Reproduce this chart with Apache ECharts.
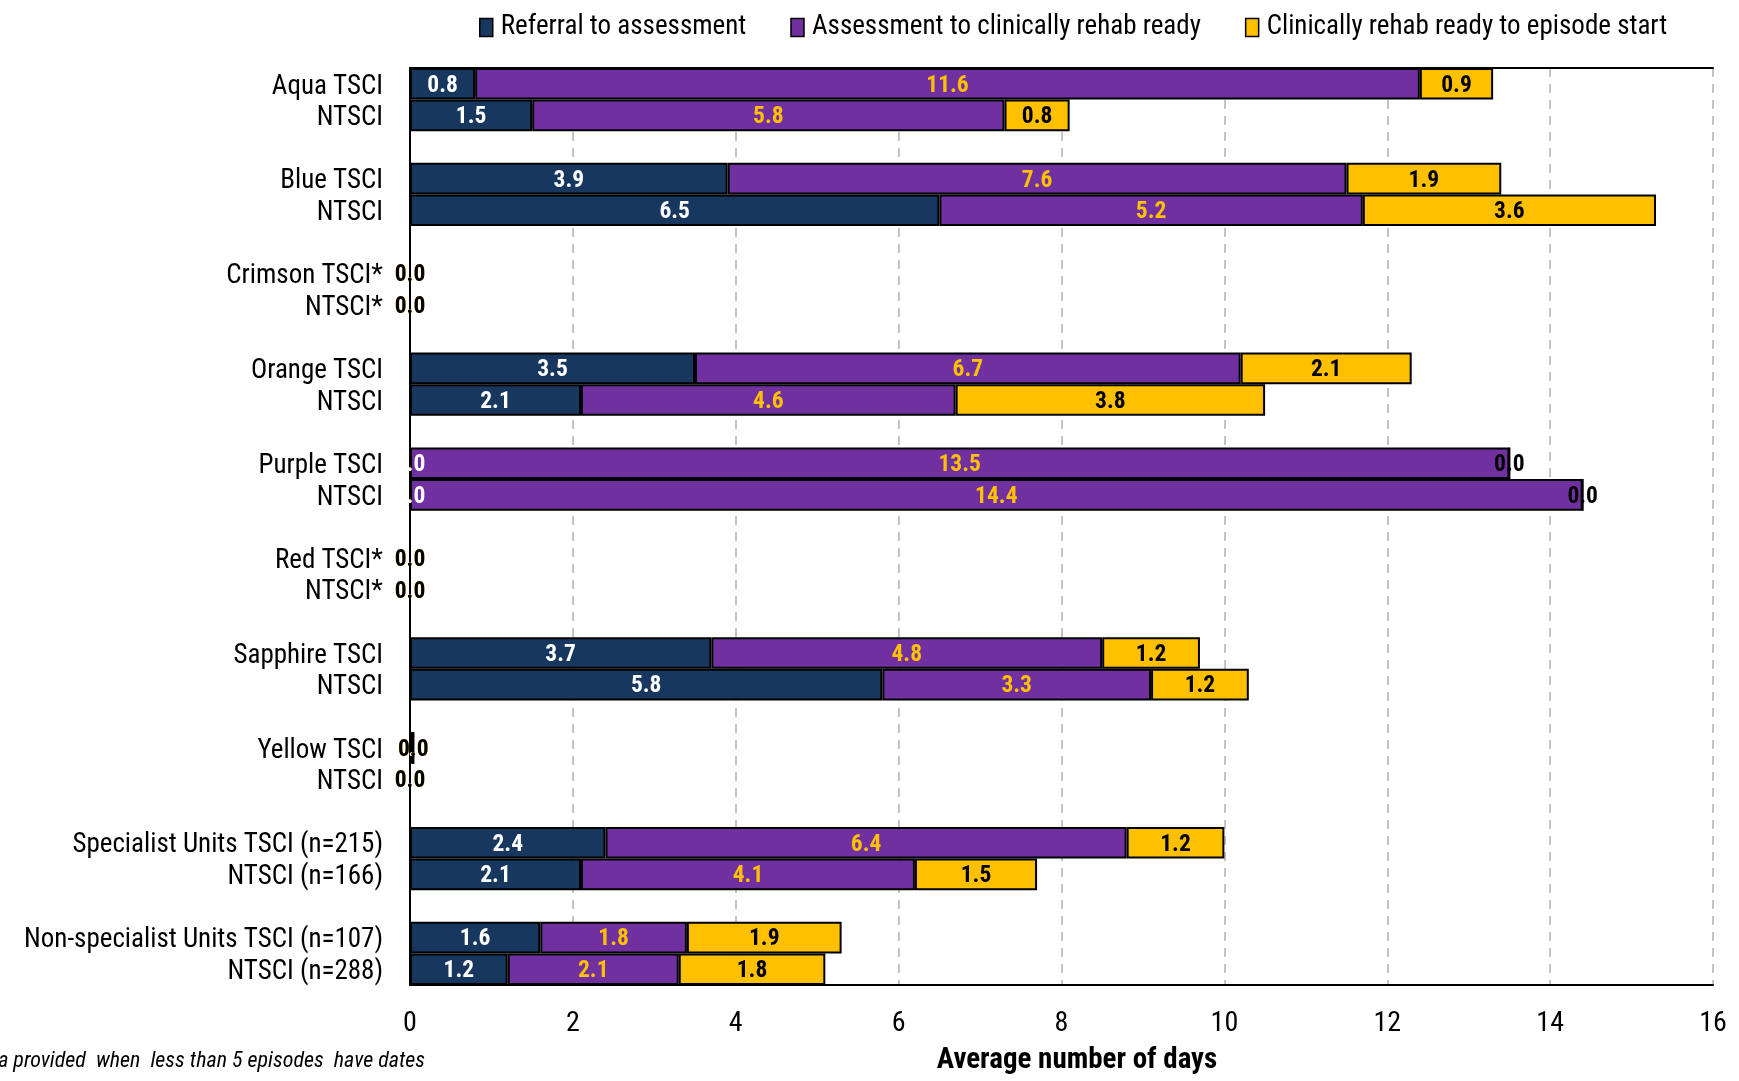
<!DOCTYPE html>
<html>
<head>
<meta charset="utf-8">
<script src="https://cdn.jsdelivr.net/npm/echarts@6/dist/echarts.min.js"></script>
<style>
  html, body { margin: 0; padding: 0; background: #fff; }
  #chart { width: 1739px; height: 1081px; }
</style>
</head>
<body>
<div id="chart"></div>
<script>
// ---- Data ----
const rowLabels = [
  'Aqua TSCI', 'NTSCI',
  'Blue TSCI', 'NTSCI',
  'Crimson TSCI*', 'NTSCI*',
  'Orange TSCI', 'NTSCI',
  'Purple TSCI', 'NTSCI',
  'Red TSCI*', 'NTSCI*',
  'Sapphire TSCI', 'NTSCI',
  'Yellow TSCI', 'NTSCI',
  'Specialist Units TSCI (n=215)', 'NTSCI (n=166)',
  'Non-specialist Units TSCI (n=107)', 'NTSCI (n=288)'
];
const seriesNames = ['Referral to assessment', 'Assessment to clinically rehab ready', 'Clinically rehab ready to episode start'];
const referral   = [0.8, 1.5, 3.9, 6.5, 0, 0, 3.5, 2.1, 0, 0, 0, 0, 3.7, 5.8, 0.04, 0, 2.4, 2.1, 1.6, 1.2];
const assessment = [11.6, 5.8, 7.6, 5.2, 0, 0, 6.7, 4.6, 13.5, 14.4, 0, 0, 4.8, 3.3, 0, 0, 6.4, 4.1, 1.8, 2.1];
const clinical   = [0.9, 0.8, 1.9, 3.6, 0, 0, 2.1, 3.8, 0, 0, 0, 0, 1.2, 1.2, 0, 0, 1.2, 1.5, 1.9, 1.8];
const xTicks = [0, 2, 4, 6, 8, 10, 12, 14, 16];
const footnote = '*No data provided  when  less than 5 episodes  have dates';
const xTitle = 'Average number of days';

// ---- Build rows with gaps between facility pairs ----
const withGaps = (arr, gap) => {
  const out = [];
  for (let i = 0; i < arr.length; i += 2) {
    if (i > 0) out.push(gap);
    out.push(arr[i], arr[i + 1]);
  }
  return out;
};
const cats = withGaps(rowLabels, '');

const FONT = 'Roboto, "Liberation Sans", sans-serif';
const COND = 'condensed';
const colors = ['#17375E', '#7030A0', '#FFC000'];
const labelColors = ['#FFFFFF', '#FFC000', '#000000'];
const dataSets = [referral, assessment, clinical];

const series = dataSets.map((d, k) => ({
  name: seriesNames[k],
  type: 'bar',
  stack: 'total',
  barWidth: '100%',
  barCategoryGap: 0,
  data: withGaps(d, '-'),
  itemStyle: { color: colors[k], borderColor: '#000', borderWidth: 2 },
  label: {
    show: true,
    position: 'inside',
    offset: [0, 2],
    color: labelColors[k],
    fontFamily: FONT,
    fontStyle: COND,
    fontWeight: 'bold',
    fontSize: 23.5,
    formatter: (p) => (typeof p.value === 'number' ? p.value.toFixed(1) : '')
  },
  emphasis: { disabled: true }
}));

const chart = echarts.init(document.getElementById('chart'), null, { renderer: 'canvas' });
chart.setOption({
  animation: false,
  color: colors,
  textStyle: { fontFamily: FONT },
  legend: {
    top: 9,
    left: 474,
    itemWidth: 13,
    itemHeight: 18,
    itemGap: 44,
    icon: 'rect',
    itemStyle: { borderColor: '#000', borderWidth: 1.5 },
    textStyle: { fontFamily: FONT, fontStyle: COND, fontSize: 27, color: '#000', padding: [0, 0, 0, 3] },
    data: seriesNames
  },
  grid: { left: 410, right: 26, top: 68, bottom: 96, containLabel: false, outerBoundsMode: 'none' },
  xAxis: [{
    type: 'value',
    min: xTicks[0],
    max: xTicks[xTicks.length - 1],
    interval: 2,
    axisLine: { show: true, lineStyle: { color: '#000', width: 2 } },
    axisTick: { show: false },
    axisLabel: { fontFamily: FONT, fontStyle: COND, fontSize: 28, color: '#000', margin: 25 },
    splitLine: { show: true, lineStyle: { color: '#c4c4c4', width: 2, type: [9, 7] } }
  }, {
    type: 'value',
    position: 'top',
    min: 0, max: 16,
    axisLine: { show: true, lineStyle: { color: '#000', width: 2 } },
    axisTick: { show: false },
    axisLabel: { show: false },
    splitLine: { show: false }
  }],
  yAxis: [{
    type: 'category',
    inverse: true,
    data: cats,
    axisLine: { show: true, lineStyle: { color: '#000', width: 2 } },
    axisTick: { show: false },
    axisLabel: {
      color: '#000', margin: 27, interval: 0,
      formatter: (v) => (v ? '{t|' + v + '}' : ''),
      rich: {
        t: { fontFamily: FONT, fontStyle: COND, fontSize: 27, color: '#000', padding: [6, 0, 0, 0] }
      }
    },
    splitLine: { show: false }
  }, {
    type: 'value',
    position: 'right',
    axisLine: { show: true, lineStyle: { color: '#000', width: 2 } },
    axisTick: { show: false },
    axisLabel: { show: false },
    splitLine: { show: false }
  }],
  graphic: [
    {
      type: 'text',
      x: 425, y: 1061,
      style: {
        text: footnote,
        font: 'italic condensed 22px Roboto, sans-serif',
        fill: '#000',
        align: 'right', verticalAlign: 'middle'
      }
    },
    {
      type: 'text',
      x: 1077, y: 1061,
      style: {
        text: xTitle,
        font: 'condensed bold 29px Roboto, sans-serif',
        fill: '#000',
        align: 'center', verticalAlign: 'middle'
      }
    }
  ],
  series: series
});
</script>
</body>
</html>
